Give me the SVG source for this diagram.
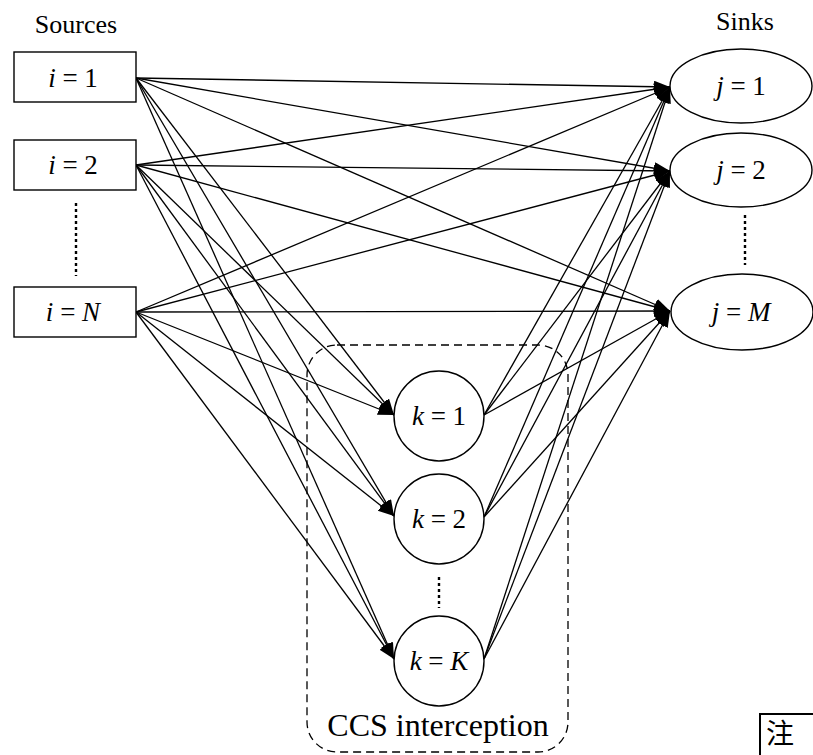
<svg xmlns="http://www.w3.org/2000/svg" width="813" height="755" viewBox="0 0 813 755">
  <style>
    .node { fill: #fff; stroke: #000; stroke-width: 1.4; }
    .lbl { font-family: "Liberation Serif", "Times New Roman", serif; font-size: 27px; fill: #000; text-anchor: middle; }
    .var { font-style: italic; }
    .title { font-family: "Liberation Serif", "Times New Roman", serif; font-size: 26px; fill: #000; text-anchor: middle; }
    .edge { stroke: #000; stroke-width: 1.3; fill: none; marker-end: url(#arrow); }
    .dots { stroke: #000; stroke-width: 2.4; stroke-dasharray: 3 3; }
  </style>
  <defs>
    <marker id="arrow" markerUnits="userSpaceOnUse" markerWidth="17" markerHeight="13" refX="16" refY="6" orient="auto">
      <path d="M0,0 L16,6 L0,12 Z" fill="#000"/>
    </marker>
  </defs>
  <rect width="813" height="755" fill="#fff"/>

  <!-- column headings -->
  <text class="title" x="76" y="33">Sources</text>
  <text class="title" x="745" y="30">Sinks</text>

  <!-- CCS interception region -->
  <g id="ccs-region">
    <rect x="307" y="345" width="261" height="407" rx="30" ry="30" fill="none" stroke="#000" stroke-width="1.3" stroke-dasharray="8 5"/>
    <text class="lbl" x="438" y="736" style="font-size:32px">CCS interception</text>
  </g>

  <!-- connectors -->
  <g id="connectors">
    <!-- sources to sinks -->
    <line class="edge" x1="136" y1="78" x2="670" y2="87"/>
    <line class="edge" x1="136" y1="78" x2="670" y2="171"/>
    <line class="edge" x1="136" y1="78" x2="670" y2="311"/>
    <line class="edge" x1="136" y1="165" x2="670" y2="87"/>
    <line class="edge" x1="136" y1="165" x2="670" y2="171"/>
    <line class="edge" x1="136" y1="165" x2="670" y2="311"/>
    <line class="edge" x1="136" y1="312" x2="670" y2="87"/>
    <line class="edge" x1="136" y1="312" x2="670" y2="171"/>
    <line class="edge" x1="136" y1="312" x2="670" y2="311"/>
    <!-- sources to interception nodes -->
    <line class="edge" x1="136" y1="78" x2="394" y2="415"/>
    <line class="edge" x1="136" y1="78" x2="394" y2="516"/>
    <line class="edge" x1="136" y1="78" x2="394" y2="659"/>
    <line class="edge" x1="136" y1="165" x2="394" y2="415"/>
    <line class="edge" x1="136" y1="165" x2="394" y2="516"/>
    <line class="edge" x1="136" y1="165" x2="394" y2="659"/>
    <line class="edge" x1="136" y1="312" x2="394" y2="415"/>
    <line class="edge" x1="136" y1="312" x2="394" y2="516"/>
    <line class="edge" x1="136" y1="312" x2="394" y2="659"/>
    <!-- interception nodes to sinks -->
    <line class="edge" x1="484" y1="415" x2="670" y2="87"/>
    <line class="edge" x1="484" y1="415" x2="670" y2="171"/>
    <line class="edge" x1="484" y1="415" x2="670" y2="311"/>
    <line class="edge" x1="484" y1="517" x2="670" y2="87"/>
    <line class="edge" x1="484" y1="517" x2="670" y2="171"/>
    <line class="edge" x1="484" y1="517" x2="670" y2="311"/>
    <line class="edge" x1="484" y1="659" x2="670" y2="87"/>
    <line class="edge" x1="484" y1="659" x2="670" y2="171"/>
    <line class="edge" x1="484" y1="659" x2="670" y2="311"/>
  </g>

  <!-- sources -->
  <g id="source-1">
    <rect class="node" x="14" y="52" width="122" height="50"/>
    <text class="lbl" x="73" y="87"><tspan class="var">i</tspan> = 1</text>
  </g>
  <g id="source-2">
    <rect class="node" x="14" y="140" width="122" height="50"/>
    <text class="lbl" x="73" y="174"><tspan class="var">i</tspan> = 2</text>
  </g>
  <line class="dots" x1="76" y1="203" x2="76" y2="276"/>
  <g id="source-N">
    <rect class="node" x="14" y="287" width="122" height="50"/>
    <text class="lbl" x="73" y="321"><tspan class="var">i</tspan> = <tspan class="var">N</tspan></text>
  </g>

  <!-- sinks -->
  <g id="sink-1">
    <ellipse class="node" cx="741" cy="86" rx="71" ry="37"/>
    <text class="lbl" x="741" y="95"><tspan class="var">j</tspan> = 1</text>
  </g>
  <g id="sink-2">
    <ellipse class="node" cx="741" cy="170" rx="71" ry="37"/>
    <text class="lbl" x="741" y="179"><tspan class="var">j</tspan> = 2</text>
  </g>
  <line class="dots" x1="745" y1="215" x2="745" y2="265"/>
  <g id="sink-M">
    <ellipse class="node" cx="742" cy="312" rx="71" ry="38"/>
    <text class="lbl" x="741" y="321"><tspan class="var">j</tspan> = <tspan class="var">M</tspan></text>
  </g>

  <!-- interception nodes -->
  <g id="intercept-1">
    <circle class="node" cx="439" cy="416" r="45"/>
    <text class="lbl" x="439" y="425"><tspan class="var">k</tspan> = 1</text>
  </g>
  <g id="intercept-2">
    <circle class="node" cx="439" cy="519" r="45"/>
    <text class="lbl" x="439" y="528"><tspan class="var">k</tspan> = 2</text>
  </g>
  <line class="dots" x1="439" y1="577" x2="439" y2="608"/>
  <g id="intercept-K">
    <circle class="node" cx="439" cy="661" r="45"/>
    <text class="lbl" x="439" y="670"><tspan class="var">k</tspan> = <tspan class="var">K</tspan></text>
  </g>

  <!-- note mark, bottom right -->
  <g id="note">
    <rect x="760" y="714" width="60" height="60" fill="none" stroke="#000" stroke-width="2"/>
    <text x="766" y="744" style="font-family:'Noto Sans CJK SC', sans-serif; font-size:28px; fill:#000">注</text>
  </g>
</svg>
